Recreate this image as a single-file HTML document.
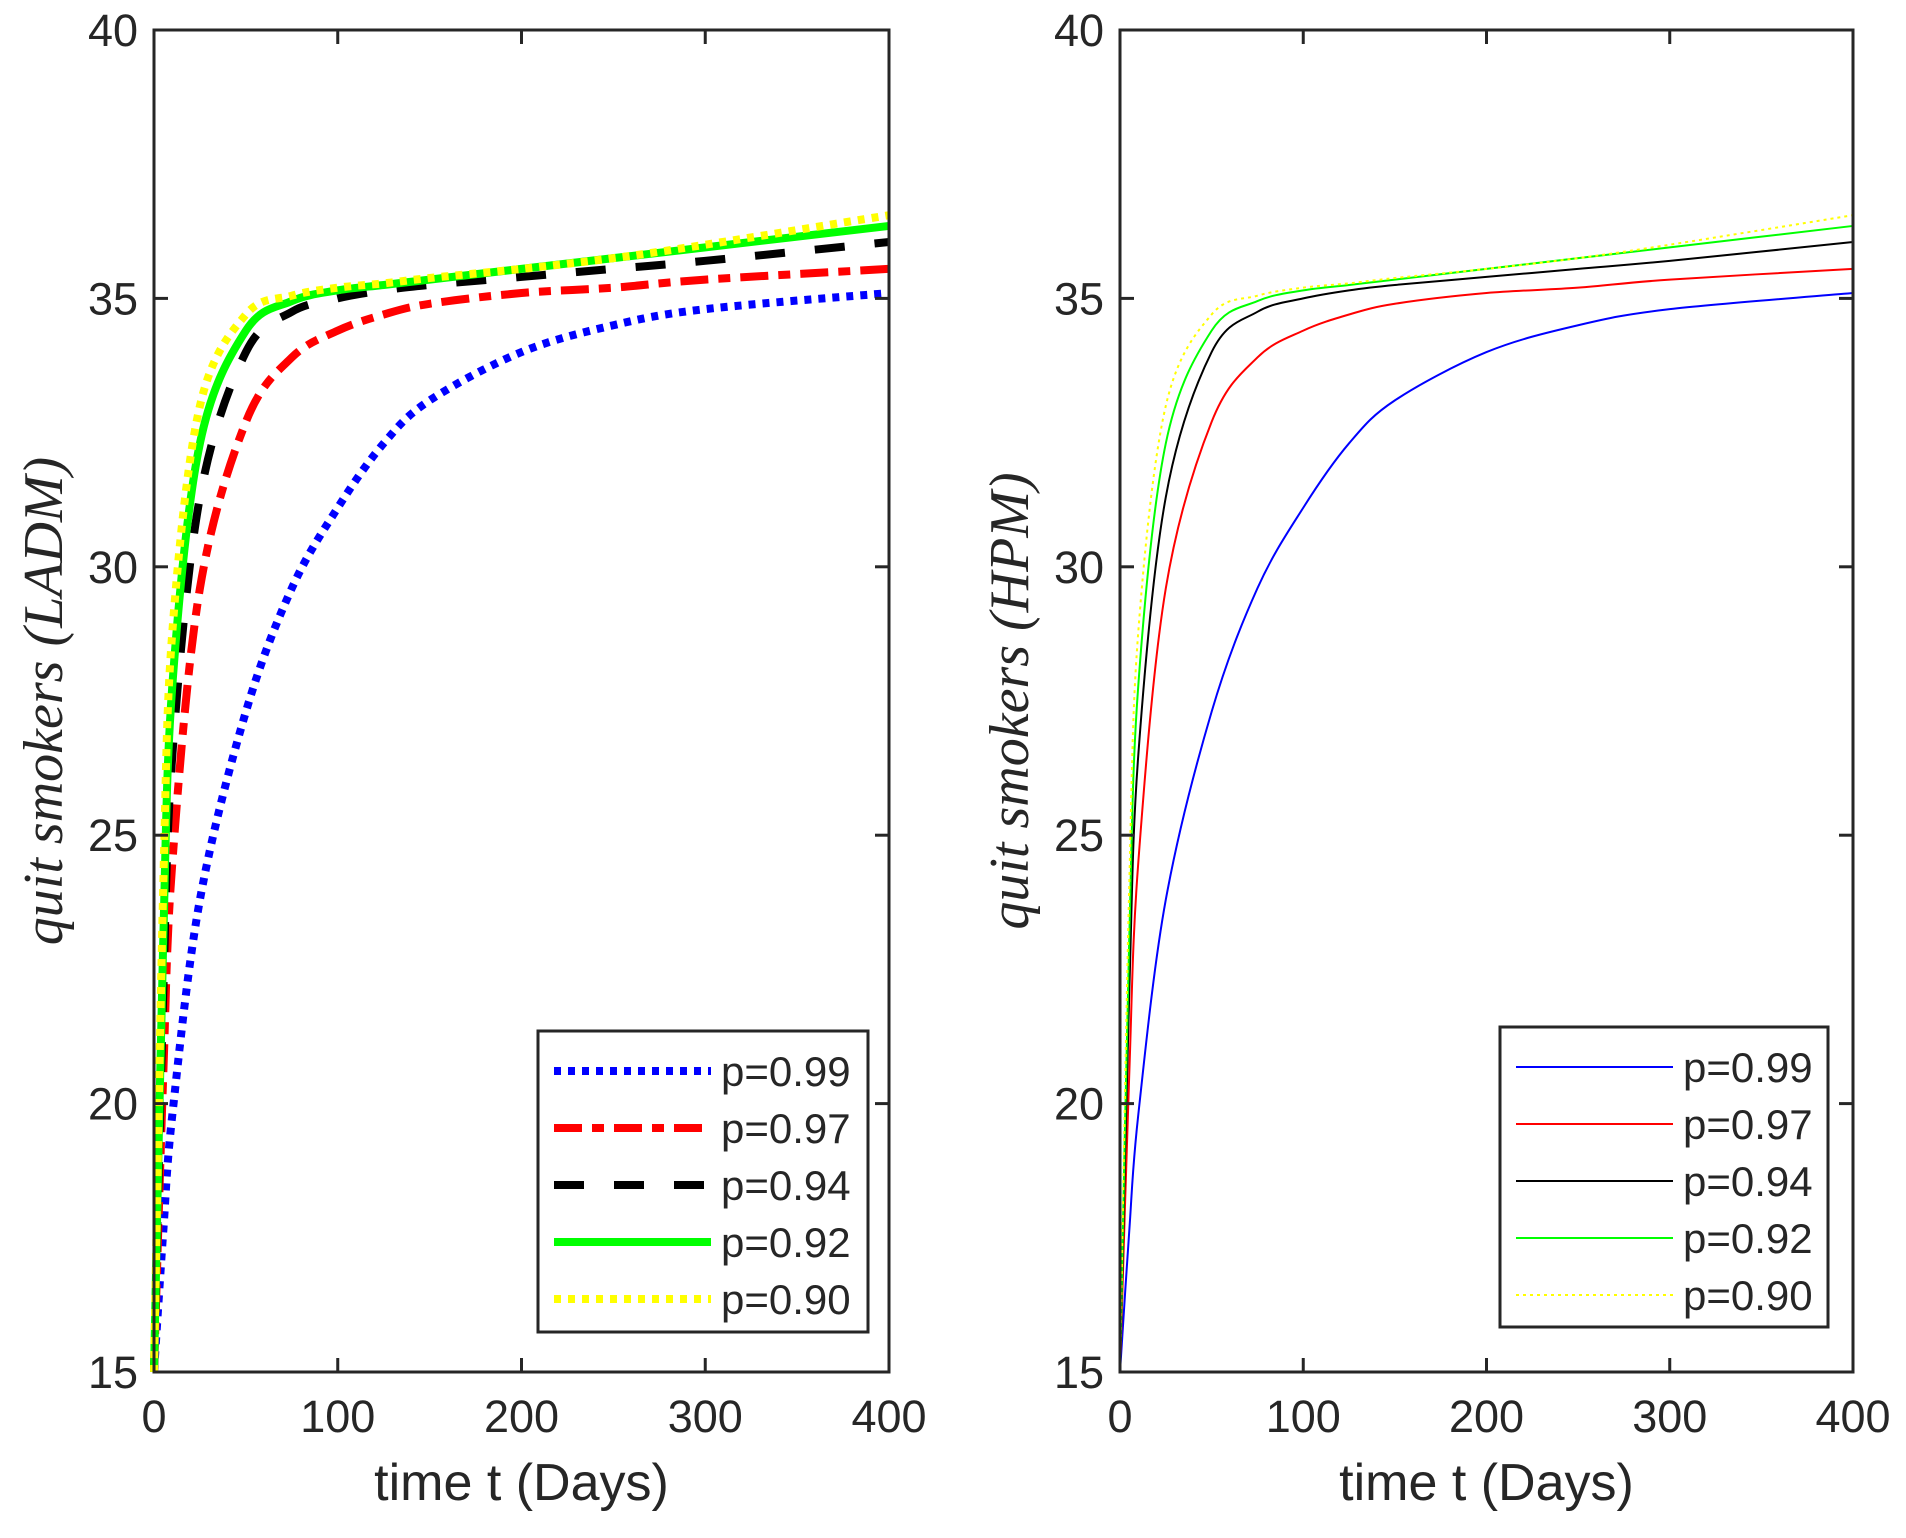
<!DOCTYPE html>
<html><head><meta charset="utf-8"><style>
body{margin:0;background:#fff;width:1906px;height:1533px;overflow:hidden}
svg text{font-family:"Liberation Sans",sans-serif;fill:#262626}
.yl{font-family:"Liberation Serif",serif;font-style:italic}
</style></head><body>
<svg id="chart" width="1906" height="1533" viewBox="0 0 1906 1533"></svg>
<script>
const times=[0,5,10,25,50,75,100,125,150,200,250,300,400];
const labels=["p=0.99","p=0.97","p=0.94","p=0.92","p=0.90"];
const s099=[15,17.6,19.8,23.8,27.3,29.6,31.1,32.3,33.1,34.0,34.5,34.8,35.1];
const s097=[15,20.5,24.5,29.6,32.7,33.9,34.4,34.7,34.9,35.1,35.2,35.35,35.55];
const s094=[15,22,26.5,31.3,34.0,34.75,35.0,35.15,35.25,35.4,35.55,35.7,36.05];
const s092=[15,23,27.8,32.3,34.4,34.95,35.15,35.25,35.35,35.55,35.75,35.95,36.35];
const s090=[15,24,28.8,33.0,34.7,35.05,35.2,35.28,35.38,35.55,35.75,36.0,36.55];
const xTicks=[0,100,200,300,400];
const yTicks=[15,20,25,30,35,40];
const series=[s099,s097,s094,s092,s090];
const colors=["#0000ff","#ff0000","#000000","#00ff00","#ffff00"];
const dashL=["7 7","28 10 12 10","30 30","","7 7"];
const dashR=["","","","","3 4"];
const NS="http://www.w3.org/2000/svg";
const svg=document.getElementById('chart');
function mk(tag,attrs,parent){const e=document.createElementNS(NS,tag);for(const k in attrs)e.setAttribute(k,attrs[k]);(parent||svg).appendChild(e);return e;}
function panel(x0,x1,y0,y1,ylabel,lw,dashes,leg,pname){
  const g=mk('g',{});
  
  
  const X=t=>x0+(t/400)*(x1-x0);
  const Y=v=>y1-(v-15)/25*(y1-y0);
  series.forEach((s,i)=>{
    const pts=times.map((t,j)=>[X(t),Y(s[j])]);
    let d='M'+pts[0][0]+','+pts[0][1];
    for(let j=0;j<pts.length-1;j++){
      const p0=pts[Math.max(0,j-1)],p1=pts[j],p2=pts[j+1],p3=pts[Math.min(pts.length-1,j+2)];
      const c1=[p1[0]+(p2[0]-p0[0])/6,p1[1]+(p2[1]-p0[1])/6];
      const c2=[p2[0]-(p3[0]-p1[0])/6,p2[1]-(p3[1]-p1[1])/6];
      d+=` C${c1[0]},${c1[1]} ${c2[0]},${c2[1]} ${p2[0]},${p2[1]}`;
    }
    const p=mk('path',{d:d,fill:'none',stroke:colors[i],'stroke-width':lw,'stroke-dasharray':dashes[i]},g);
    
    
  });
  const box=mk('rect',{x:x0,y:y0,width:x1-x0,height:y1-y0,fill:'none',stroke:'#262626','stroke-width':3},g);
  
  
  xTicks.forEach(t=>{
    mk('line',{x1:X(t),x2:X(t),y1:y1,y2:y1-14,stroke:'#262626','stroke-width':3},g);
    mk('line',{x1:X(t),x2:X(t),y1:y0,y2:y0+14,stroke:'#262626','stroke-width':3},g);
    const tx=mk('text',{x:X(t),y:y1+60,'font-size':45,'text-anchor':'middle'},g);tx.textContent=t;
    
    
  });
  yTicks.forEach(v=>{
    mk('line',{x1:x0,x2:x0+14,y1:Y(v),y2:Y(v),stroke:'#262626','stroke-width':3},g);
    mk('line',{x1:x1,x2:x1-14,y1:Y(v),y2:Y(v),stroke:'#262626','stroke-width':3},g);
    const ty=mk('text',{x:x0-16,y:Y(v)+16,'font-size':45,'text-anchor':'end'},g);ty.textContent=v;
    
    
  });
  const xl=mk('text',{x:(x0+x1)/2,y:1500,'font-size':52,'text-anchor':'middle'},g);xl.textContent='time t (Days)';
  
  
  const yl=mk('text',{x:0,y:0,'font-size':56,'text-anchor':'middle',class:'yl',transform:`translate(${x0-92},${(y0+y1)/2}) rotate(-90)`},g);yl.textContent=ylabel;
  
  
  const lg=mk('g',{},g);
  
  
  mk('rect',{x:leg[0],y:leg[1],width:leg[2],height:leg[3],fill:'#fff',stroke:'#262626','stroke-width':3},lg);
  labels.forEach((l,i)=>{
    const yy=leg[1]+40+i*57;
    const ln=mk('line',{x1:leg[0]+16,x2:leg[0]+173,y1:yy,y2:yy,stroke:colors[i],'stroke-width':lw,'stroke-dasharray':dashes[i]},lg);
    
    
    const t=mk('text',{x:leg[0]+183,y:yy+15,'font-size':42,fill:'#000'},lg);t.textContent=l;
    
    
  });
}
panel(154,889,30,1372,'quit smokers (LADM)',8,dashL,[538,1031,330,301],'panel-ladm');
panel(1120,1853,30,1372,'quit smokers (HPM)',2,dashR,[1500,1027,328,300],'panel-hpm');
</script>
</body></html>
